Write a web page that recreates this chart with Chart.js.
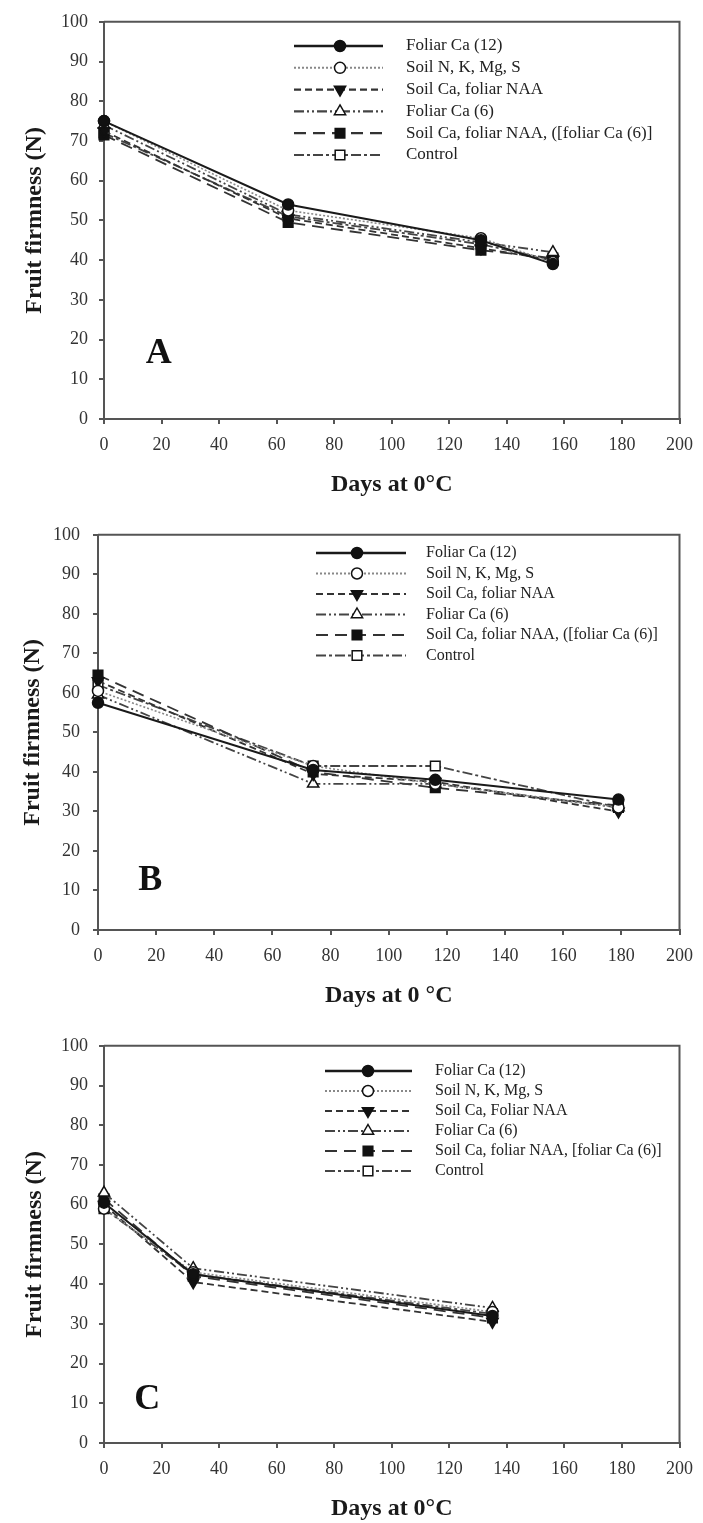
<!DOCTYPE html>
<html><head><meta charset="utf-8">
<script src="https://cdn.jsdelivr.net/npm/chart.js@4/dist/chart.umd.min.js"></script>
<style>
html,body{margin:0;padding:0;background:#fff;overflow:hidden;width:703px;height:1523px;position:relative}
canvas{position:absolute;left:0}
</style></head><body>
<canvas id="cA" width="703" height="512" style="top:0px"></canvas>
<canvas id="cB" width="703" height="512" style="top:511px"></canvas>
<canvas id="cC" width="703" height="512" style="top:1024px"></canvas>
<script>
// ---------- data ----------
const daysA = [0, 64, 131, 156];
const daysB = [0, 74, 116, 179];
const daysC = [0, 31, 135];

const namesAB = ['Foliar Ca (12)', 'Soil N, K, Mg, S', 'Soil Ca, foliar NAA', 'Foliar Ca (6)', 'Soil Ca, foliar NAA, ([foliar Ca (6)]', 'Control'];
const namesC = ['Foliar Ca (12)', 'Soil N, K, Mg, S', 'Soil Ca, Foliar NAA', 'Foliar Ca (6)', 'Soil Ca, foliar NAA, [foliar Ca (6)]', 'Control'];

const foliarCa12A = [75, 54, 45, 39];
const soilNKMgSA = [75, 52.5, 45.5, 39.5];
const soilCaNAAA = [72.5, 50.5, 43, 40];
const foliarCa6A = [74, 51.5, 44.5, 42];
const soilCaNAAFoliarCa6A = [71.5, 49.5, 42.5, 40.5];
const controlA = [72, 51, 44, 40];

const foliarCa12B = [57.5, 40.5, 38, 33];
const soilNKMgSB = [60.5, 41.5, 37, 31];
const soilCaNAAB = [63, 39.5, 37.5, 30];
const foliarCa6B = [59.5, 37, 37, 31];
const soilCaNAAFoliarCa6B = [64.5, 40, 36, 31.5];
const controlB = [62, 41.5, 41.5, 31];

const foliarCa12C = [60.5, 42.5, 32];
const soilNKMgSC = [59, 43, 33];
const soilCaNAAC = [60, 40.5, 30.5];
const foliarCa6C = [63, 44, 34];
const soilCaNAAFoliarCa6C = [61.5, 42, 31.5];
const controlC = [59, 42.5, 32.5];

const xTicks = [0, 20, 40, 60, 80, 100, 120, 140, 160, 180, 200];
const yTicks = [0, 10, 20, 30, 40, 50, 60, 70, 80, 90, 100];

// ---------- styles ----------
const SERIF = '"Liberation Serif", "Times New Roman", serif';
const styles = [
  {dash: [], point: 'circle', rot: 0, fill: true, color: '#1a1a1a', width: 2, r: 5.5},
  {dash: [2, 2], point: 'circle', rot: 0, fill: false, color: '#888', width: 1.6, r: 5.5},
  {dash: [7, 4], point: 'triangle', rot: 180, fill: true, color: '#333', width: 1.8, r: 6.5},
  {dash: [10, 3, 2, 3, 2, 3], point: 'triangle', rot: 0, fill: false, color: '#444', width: 1.8, r: 6.5},
  {dash: [12, 7], point: 'rect', rot: 0, fill: true, color: '#333', width: 1.8, r: 6.8},
  {dash: [10, 3, 3, 3], point: 'rect', rot: 0, fill: false, color: '#444', width: 1.8, r: 6.8}
];

function drawMarker(ctx, st, x, y, r) {
  ctx.save();
  ctx.setLineDash([]);
  ctx.lineWidth = 1.5;
  ctx.strokeStyle = '#111';
  ctx.fillStyle = st.fill ? '#111' : '#fff';
  ctx.beginPath();
  if (st.point === 'circle') {
    ctx.arc(x, y, r, 0, Math.PI * 2);
  } else if (st.point === 'rect') {
    const s = r * Math.SQRT1_2;
    ctx.rect(x - s, y - s, 2 * s, 2 * s);
  } else {
    const sign = st.rot === 180 ? -1 : 1;
    ctx.moveTo(x, y - sign * r);
    ctx.lineTo(x + r * 0.866, y + sign * r * 0.5);
    ctx.lineTo(x - r * 0.866, y + sign * r * 0.5);
    ctx.closePath();
  }
  ctx.fill();
  ctx.stroke();
  ctx.restore();
}

const framePlugin = {
  id: 'frame',
  afterDatasetsDraw(chart, args, opts) {
    const ctx = chart.ctx, a = chart.chartArea;
    ctx.save();
    // top and right border
    ctx.strokeStyle = '#555';
    ctx.lineWidth = 2;
    ctx.beginPath();
    ctx.moveTo(a.left, a.top);
    ctx.lineTo(a.right, a.top);
    ctx.lineTo(a.right, a.bottom);
    ctx.stroke();
    // legend
    const L = opts.legend;
    ctx.font = L.fontSize + 'px ' + SERIF;
    ctx.textBaseline = 'middle';
    ctx.textAlign = 'left';
    L.names.forEach((n, i) => {
      const st = styles[i];
      const y = L.y0 + i * L.step;
      ctx.save();
      ctx.strokeStyle = st.color;
      ctx.lineWidth = st.width + 0.4;
      ctx.setLineDash(st.dash);
      ctx.beginPath();
      ctx.moveTo(L.x1, y);
      ctx.lineTo(L.x2, y);
      ctx.stroke();
      ctx.restore();
      drawMarker(ctx, st, L.xm, y, st.r);
      ctx.fillStyle = '#222';
      ctx.fillText(n, L.xt, y);
    });
    // panel letter
    const xs = chart.scales.x, ys = chart.scales.y;
    ctx.font = 'bold ' + opts.letterSize + 'px ' + SERIF;
    ctx.textAlign = 'center';
    ctx.fillStyle = '#111';
    ctx.fillText(opts.letter, xs.getPixelForValue(opts.letterAt[0]), ys.getPixelForValue(opts.letterAt[1]));
    ctx.restore();
  }
};

function makeChart(id, days, seriesList, names, cfg) {
  const datasets = seriesList.map((vals, i) => {
    const st = styles[i];
    return {
      label: names[i],
      data: vals.map((v, k) => ({x: days[k], y: v})),
      borderColor: st.color,
      borderWidth: st.width,
      borderDash: st.dash,
      pointStyle: st.point,
      pointRotation: st.rot,
      pointRadius: st.r,
      pointBorderWidth: 1.5,
      pointBorderColor: '#111',
      pointBackgroundColor: st.fill ? '#111' : '#fff',
      tension: 0,
      clip: false,
      fill: false
    };
  });
  return new Chart(document.getElementById(id), {
    type: 'line',
    data: {datasets},
    plugins: [framePlugin],
    options: {
      responsive: false,
      animation: false,
      devicePixelRatio: 1,
      layout: {padding: {left: 0, right: 703 - cfg.right, top: 20, bottom: 0}},
      plugins: {
        legend: {display: false},
        tooltip: {enabled: false},
        frame: cfg.frame
      },
      scales: {
        x: {
          type: 'linear', min: 0, max: 200,
          afterBuildTicks(s) { s.ticks = xTicks.map(v => ({value: v})); },
          afterFit(s) { s.height = 93; },
          ticks: {font: {family: SERIF, size: 18}, color: '#333', padding: 10, maxRotation: 0, autoSkip: false},
          grid: {drawOnChartArea: false, drawTicks: true, tickLength: 5, color: '#555', lineWidth: 2},
          border: {display: true, color: '#555', width: 2},
          title: {display: true, text: cfg.xTitle, color: '#1a1a1a',
                  font: {family: SERIF, size: 24, weight: 'bold'}, padding: {top: 0, bottom: 12.6}}
        },
        y: {
          type: 'linear', min: 0, max: 100,
          afterBuildTicks(s) { s.ticks = yTicks.map(v => ({value: v})); },
          afterFit(s) { s.width = cfg.left; },
          ticks: {font: {family: SERIF, size: 18}, color: '#333', padding: cfg.yPad, autoSkip: false},
          grid: {drawOnChartArea: false, drawTicks: true, tickLength: 5, color: '#555', lineWidth: 2},
          border: {display: true, color: '#555', width: 2},
          title: {display: true, text: 'Fruit firmness (N)', color: '#1a1a1a',
                  font: {family: SERIF, size: 24, weight: 'bold'}, padding: {top: cfg.yTitlePad, bottom: 0}}
        }
      }
    }
  });
}

makeChart('cA', daysA,
  [foliarCa12A, soilNKMgSA, soilCaNAAA, foliarCa6A, soilCaNAAFoliarCa6A, controlA], namesAB,
  {left: 104, right: 685, yPad: 11, yTitlePad: 20, xTitle: 'Days at 0°C',
   frame: {letter: 'A', letterAt: [19, 16.5], letterSize: 36,
           legend: {names: namesAB, x1: 294, x2: 383, xm: 340, xt: 406, y0: 46, step: 21.8, fontSize: 17}}});

makeChart('cB', daysB,
  [foliarCa12B, soilNKMgSB, soilCaNAAB, foliarCa6B, soilCaNAAFoliarCa6B, controlB], namesAB,
  {left: 98, right: 680, yPad: 13, yTitlePad: 18, xTitle: 'Days at 0 °C',
   frame: {letter: 'B', letterAt: [18, 12.5], letterSize: 36,
           legend: {names: namesAB, x1: 316, x2: 406, xm: 357, xt: 426, y0: 42, step: 20.5, fontSize: 16}}});

makeChart('cC', daysC,
  [foliarCa12C, soilNKMgSC, soilCaNAAC, foliarCa6C, soilCaNAAFoliarCa6C, controlC], namesC,
  {left: 104, right: 685, yPad: 11, yTitlePad: 20, xTitle: 'Days at 0°C',
   frame: {letter: 'C', letterAt: [15, 11], letterSize: 36,
           legend: {names: namesC, x1: 325, x2: 412, xm: 368, xt: 435, y0: 47, step: 20, fontSize: 16}}});
</script>
</body></html>
